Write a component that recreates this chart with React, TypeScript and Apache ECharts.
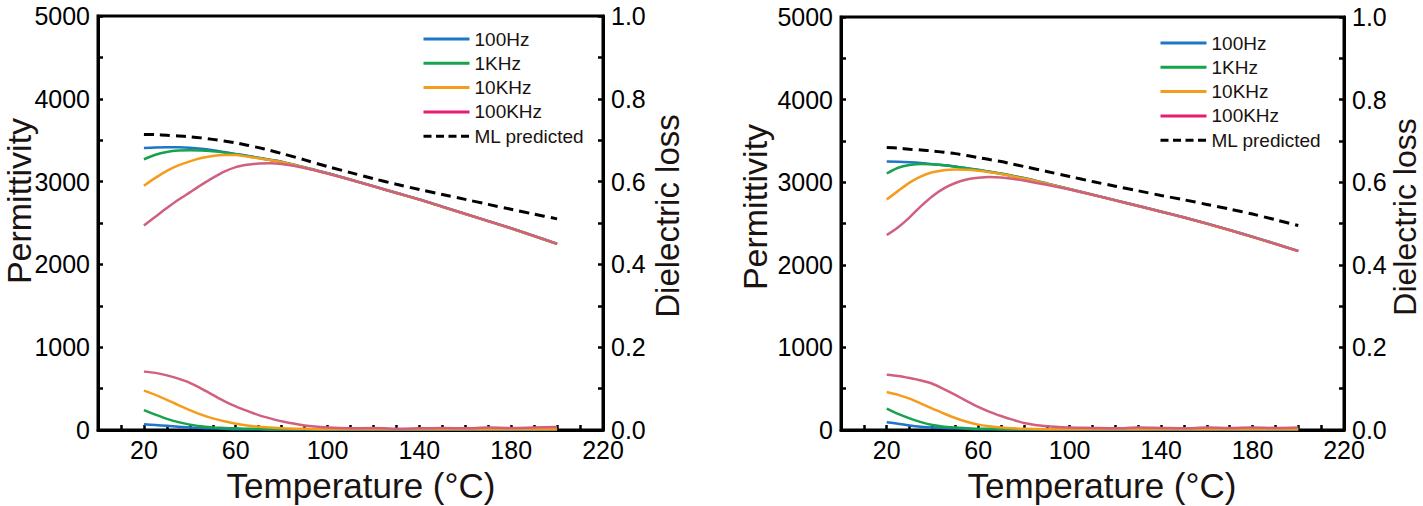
import React, { useEffect, useRef } from "react";
import * as echarts from "echarts";

// temperature grid shared by all curves (°C)
const temps = [20, 25, 30, 35, 40, 45, 50, 55, 60, 65, 70, 75, 80, 90, 100, 110, 120, 130, 140, 150, 160, 170, 180, 190, 200];

const freqNames = ["100Hz", "1KHz", "10KHz", "100KHz"];
const mlName = "ML predicted";

// left panel - permittivity
const permA100Hz = [3405, 3412, 3415, 3415, 3410, 3398, 3380, 3358, 3335, 3312, 3288, 3264, 3240, 3172, 3102, 3025, 2945, 2865, 2785, 2698, 2611, 2524, 2437, 2344, 2250];
const permA1KHz = [3270, 3325, 3358, 3375, 3380, 3376, 3365, 3350, 3330, 3308, 3285, 3262, 3238, 3170, 3100, 3023, 2943, 2863, 2783, 2696, 2609, 2522, 2435, 2342, 2248];
const permA10KHz = [2950, 3045, 3130, 3195, 3245, 3285, 3310, 3322, 3320, 3302, 3282, 3260, 3236, 3168, 3098, 3022, 2942, 2862, 2782, 2695, 2608, 2521, 2434, 2341, 2247];
const permA100KHz = [2470, 2575, 2680, 2780, 2870, 2960, 3045, 3120, 3175, 3203, 3218, 3222, 3212, 3165, 3098, 3022, 2943, 2862, 2784, 2697, 2610, 2523, 2436, 2343, 2248];
const permAML = [3570, 3567, 3560, 3552, 3542, 3528, 3510, 3490, 3468, 3440, 3410, 3376, 3340, 3262, 3182, 3108, 3036, 2968, 2905, 2845, 2785, 2725, 2665, 2607, 2550];

// left panel - dielectric loss
const lossA100Hz = [0.014, 0.012, 0.01, 0.008, 0.006, 0.005, 0.004, 0.003, 0.002, 0.002, 0.002, 0.001, 0.001, 0.001, 0.001, 0.001, 0.001, 0.001, 0.001, 0.001, 0.001, 0.001, 0.001, 0.001, 0.001];
const lossA1KHz = [0.048, 0.037, 0.027, 0.019, 0.013, 0.009, 0.006, 0.005, 0.004, 0.003, 0.003, 0.002, 0.002, 0.002, 0.002, 0.002, 0.002, 0.002, 0.002, 0.002, 0.002, 0.002, 0.002, 0.002, 0.002];
const lossA10KHz = [0.095, 0.085, 0.073, 0.06, 0.048, 0.037, 0.028, 0.021, 0.015, 0.011, 0.008, 0.006, 0.004, 0.003, 0.002, 0.002, 0.002, 0.002, 0.002, 0.002, 0.002, 0.002, 0.002, 0.002, 0.002];
const lossA100KHz = [0.141, 0.138, 0.132, 0.124, 0.114, 0.1, 0.085, 0.07, 0.057, 0.046, 0.036, 0.028, 0.021, 0.011, 0.006, 0.004, 0.005, 0.003, 0.004, 0.005, 0.004, 0.006, 0.005, 0.006, 0.007];

// right panel - permittivity
const permB100Hz = [3250, 3248, 3242, 3232, 3218, 3205, 3190, 3170, 3150, 3128, 3105, 3078, 3050, 2985, 2918, 2850, 2782, 2714, 2645, 2575, 2500, 2422, 2340, 2255, 2168];
const permB1KHz = [3105, 3175, 3208, 3220, 3218, 3205, 3188, 3168, 3148, 3126, 3102, 3076, 3048, 2983, 2916, 2848, 2780, 2712, 2643, 2573, 2498, 2420, 2338, 2253, 2166];
const permB10KHz = [2790, 2895, 2995, 3070, 3120, 3145, 3153, 3150, 3138, 3120, 3098, 3072, 3045, 2982, 2915, 2847, 2779, 2711, 2642, 2572, 2497, 2419, 2337, 2252, 2165];
const permB100KHz = [2360, 2455, 2575, 2710, 2830, 2925, 2990, 3032, 3053, 3063, 3058, 3042, 3020, 2968, 2912, 2848, 2780, 2712, 2643, 2573, 2498, 2420, 2338, 2253, 2166];
const permBML = [3420, 3412, 3400, 3390, 3378, 3362, 3346, 3322, 3298, 3274, 3250, 3220, 3190, 3130, 3069, 3008, 2952, 2896, 2840, 2787, 2731, 2675, 2614, 2546, 2475];

// right panel - dielectric loss
const lossB100Hz = [0.019, 0.015, 0.011, 0.008, 0.006, 0.005, 0.004, 0.003, 0.002, 0.002, 0.002, 0.001, 0.001, 0.001, 0.001, 0.001, 0.001, 0.001, 0.001, 0.001, 0.001, 0.001, 0.001, 0.001, 0.001];
const lossB1KHz = [0.052, 0.039, 0.028, 0.019, 0.012, 0.008, 0.006, 0.004, 0.003, 0.003, 0.002, 0.002, 0.002, 0.002, 0.002, 0.002, 0.002, 0.002, 0.002, 0.002, 0.002, 0.002, 0.002, 0.002, 0.002];
const lossB10KHz = [0.092, 0.085, 0.076, 0.064, 0.052, 0.04, 0.029, 0.02, 0.013, 0.009, 0.006, 0.004, 0.003, 0.002, 0.002, 0.002, 0.002, 0.002, 0.002, 0.002, 0.002, 0.002, 0.002, 0.002, 0.002];
const lossB100KHz = [0.134, 0.131, 0.126, 0.12, 0.112, 0.099, 0.085, 0.07, 0.056, 0.044, 0.034, 0.025, 0.017, 0.009, 0.006, 0.005, 0.004, 0.006, 0.005, 0.004, 0.006, 0.005, 0.006, 0.005, 0.006];

const xTicks = [20, 60, 100, 140, 180, 220];

const colors = ["#1d76c8", "#17a24c", "#f59c1a", "#d0607e"];
const legendPink = "#e51c72";
const font = "Liberation Sans";
const ink = "#1a1311";

const pairs = (vals: number[]) => temps.map((t, i) => [t, vals[i]]);

const App: React.FC = () => {
  const chartRef = useRef<HTMLDivElement | null>(null);

  useEffect(() => {
    const dom = chartRef.current;
    if (!dom) return;
    document.body.style.margin = "0";

    const chart = echarts.init(dom, undefined, { renderer: "svg" });

    const panels = [
      { perm: [permA100Hz, permA1KHz, permA10KHz, permA100KHz], ml: permAML, loss: [lossA100Hz, lossA1KHz, lossA10KHz, lossA100KHz] },
      { perm: [permB100Hz, permB1KHz, permB10KHz, permB100KHz], ml: permBML, loss: [lossB100Hz, lossB1KHz, lossB10KHz, lossB100KHz] },
    ];

    const grids = [
      { left: 98, top: 16, width: 505, height: 414 },
      { left: 841, top: 17, width: 503, height: 413 },
    ];

    const tickStyle = { show: true, inside: true, length: 5, lineStyle: { color: "#000", width: 2.5 } };
    const lineAxis = { show: true, lineStyle: { color: "#000", width: 3 } };
    const labelStyle = { color: "#000", fontSize: 25, fontFamily: font };

    const xAxis: any[] = [];
    const yAxis: any[] = [];
    const series: any[] = [];

    panels.forEach((p, g) => {
      xAxis.push({
        type: "value",
        gridIndex: g,
        min: 0,
        max: 220,
        interval: 10,
        axisLine: lineAxis,
        axisTick: tickStyle,
        splitLine: { show: false },
        axisLabel: {
          ...labelStyle,
          margin: 7,
          formatter: (v: number) => (xTicks.includes(v) ? String(v) : ""),
        },
      });
      yAxis.push({
        type: "value",
        gridIndex: g,
        position: "left",
        min: 0,
        max: 5000,
        interval: 500,
        axisLine: lineAxis,
        axisTick: tickStyle,
        splitLine: { show: false },
        axisLabel: {
          ...labelStyle,
          margin: 8,
          formatter: (v: number) => (v % 1000 === 0 ? String(v) : ""),
        },
      });
      yAxis.push({
        type: "value",
        gridIndex: g,
        position: "right",
        min: 0,
        max: 1,
        interval: 0.1,
        axisLine: lineAxis,
        axisTick: tickStyle,
        splitLine: { show: false },
        axisLabel: {
          ...labelStyle,
          margin: 8,
          padding: [0, 0, 8, 0],
          formatter: (v: number) => (Math.round(v * 10) % 2 === 0 ? v.toFixed(1) : ""),
        },
      });

      freqNames.forEach((name, i) => {
        series.push({
          name,
          type: "line",
          xAxisIndex: g,
          yAxisIndex: g * 2,
          data: pairs(p.perm[i]),
          symbol: "none",
          smooth: 0.3,
          lineStyle: { color: colors[i], width: 2.5 },
          itemStyle: { color: colors[i] },
          z: 2 + i,
        });
        series.push({
          name,
          type: "line",
          xAxisIndex: g,
          yAxisIndex: g * 2 + 1,
          data: pairs(p.loss[i]),
          symbol: "none",
          smooth: 0.3,
          lineStyle: { color: colors[i], width: 2.5 },
          itemStyle: { color: colors[i] },
          z: 2 + i,
        });
      });
      series.push({
        name: mlName,
        type: "line",
        xAxisIndex: g,
        yAxisIndex: g * 2,
        data: pairs(p.ml),
        symbol: "none",
        smooth: 0.3,
        lineStyle: { color: "#000", width: 3, type: [10, 6] },
        itemStyle: { color: "#000" },
        z: 8,
      });
    });

    const hiddenSymbol = { color: "transparent", borderColor: "transparent", borderWidth: 0, opacity: 0 };
    const legendData = [
      ...freqNames.map((name, i) => ({
        name,
        lineStyle: { color: i === 3 ? legendPink : colors[i], width: 3 },
        itemStyle: hiddenSymbol,
      })),
      { name: mlName, lineStyle: { color: "#000", width: 3, type: [8, 4.5] }, itemStyle: hiddenSymbol },
    ];

    const legendBase = {
      orient: "vertical",
      itemWidth: 46,
      itemHeight: 14,
      itemGap: 5.3,
      selectedMode: false,
      padding: 0,
      textStyle: { color: ink, fontSize: 19, lineHeight: 19, fontFamily: font },
      data: legendData,
    };

    const titleText = (text: string, x: number, y: number, size: number, rotate: boolean) => ({
      type: "text",
      x,
      y,
      rotation: rotate ? Math.PI / 2 : 0,
      style: {
        text,
        fill: ink,
        fontSize: size,
        fontFamily: font,
        textAlign: "center",
        textVerticalAlign: "middle",
      },
    });

    chart.setOption({
      animation: false,
      grid: grids.map((g) => ({ ...g, show: true, borderColor: "#000", borderWidth: 3, backgroundColor: "transparent" })),
      xAxis,
      yAxis,
      series,
      legend: [
        { ...legendBase, left: 422, top: 29.5 },
        { ...legendBase, left: 1159, top: 33.5 },
      ],
      graphic: [
        titleText("Permittivity", 19, 201, 34, true),
        titleText("Temperature (°C)", 361, 485, 35, false),
        titleText("Dielectric loss", 667, 216, 33, true),
        titleText("Permittivity", 755, 207, 34, true),
        titleText("Temperature (°C)", 1102, 485, 35, false),
        titleText("Dielectric loss", 1405, 217, 32, true),
      ],
    });

    return () => {
      chart.dispose();
    };
  }, []);

  return <div ref={chartRef} style={{ width: "1423px", height: "506px" }}></div>;
};

export default App;
